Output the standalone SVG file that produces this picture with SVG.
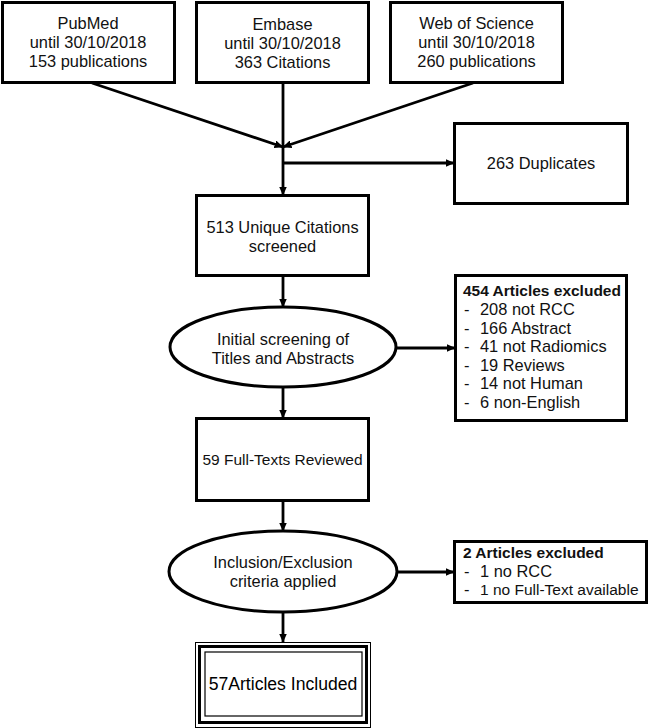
<svg xmlns="http://www.w3.org/2000/svg" width="649" height="728" viewBox="0 0 649 728">
<defs>
<style>
.box{fill:#fff;stroke:#000;stroke-width:3}
.t{font-family:"Liberation Sans",Arial,sans-serif;font-size:16.4px;fill:#111}
.c{text-anchor:middle}
.b{font-weight:bold;font-size:15.5px}
.s{font-size:15.5px}
.ln{fill:none;stroke:#000;stroke-width:2.8}
.a{font-family:"Liberation Sans",Arial,sans-serif;font-size:17.6px;fill:#000;text-anchor:middle}
</style>
<marker id="ah" markerUnits="userSpaceOnUse" markerWidth="9" markerHeight="8" refX="8.5" refY="4" orient="auto">
<path d="M0,0 L9,4 L0,8 z" fill="#000"/>
</marker>
</defs>
<rect width="649" height="728" fill="#fff"/>
<g id="connectors">
<line class="ln" x1="92" y1="83" x2="283" y2="147" marker-end="url(#ah)"/>
<line class="ln" x1="473" y1="83" x2="283" y2="147" marker-end="url(#ah)"/>
<line class="ln" x1="283" y1="83" x2="283" y2="195" marker-end="url(#ah)"/>
<line class="ln" x1="283" y1="163" x2="454" y2="163" marker-end="url(#ah)"/>
<line class="ln" x1="283" y1="276" x2="283" y2="307" marker-end="url(#ah)"/>
<line class="ln" x1="396" y1="348" x2="455" y2="348" marker-end="url(#ah)"/>
<line class="ln" x1="283" y1="387" x2="283" y2="418" marker-end="url(#ah)"/>
<line class="ln" x1="283" y1="501" x2="283" y2="531" marker-end="url(#ah)"/>
<line class="ln" x1="397" y1="572" x2="454" y2="572" marker-end="url(#ah)"/>
<line class="ln" x1="283" y1="612" x2="283" y2="642" marker-end="url(#ah)"/>
</g>
<g id="pubmed">
<rect class="box" x="2.5" y="2.5" width="172" height="80"/>
<text class="t c"><tspan x="88" y="29">PubMed</tspan><tspan x="88" y="48">until 30/10/2018</tspan><tspan x="88" y="67">153 publications</tspan></text>
</g>
<g id="embase">
<rect class="box" x="196.5" y="2.5" width="172" height="80"/>
<text class="t c"><tspan x="282.5" y="30">Embase</tspan><tspan x="282.5" y="49">until 30/10/2018</tspan><tspan x="282.5" y="68">363 Citations</tspan></text>
</g>
<g id="wos">
<rect class="box" x="390.5" y="2.5" width="172" height="80"/>
<text class="t c"><tspan x="476.5" y="29">Web of Science</tspan><tspan x="476.5" y="48">until 30/10/2018</tspan><tspan x="476.5" y="67">260 publications</tspan></text>
</g>
<g id="duplicates">
<rect class="box" x="454.5" y="123.5" width="173" height="80"/>
<text class="t c" x="541" y="169">263 Duplicates</text>
</g>
<g id="unique">
<rect class="box" x="196.5" y="195.5" width="172" height="80"/>
<text class="t c"><tspan x="282.5" y="233">513 Unique Citations</tspan><tspan x="282.5" y="252">screened</tspan></text>
</g>
<g id="screening">
<ellipse class="box" cx="283" cy="347" rx="113" ry="40"/>
<text class="t c"><tspan x="283" y="345">Initial screening of</tspan><tspan x="283" y="364">Titles and Abstracts</tspan></text>
</g>
<g id="excluded454">
<rect class="box" x="455.5" y="275.5" width="171" height="145"/>
<text class="t"><tspan class="b" x="463" y="296">454 Articles excluded</tspan><tspan x="464" y="315">-</tspan><tspan x="480" y="315">208 not RCC</tspan><tspan x="464" y="333.6">-</tspan><tspan x="480" y="333.6">166 Abstract</tspan><tspan x="464" y="352.2">-</tspan><tspan x="480" y="352.2">41 not Radiomics</tspan><tspan x="464" y="370.8">-</tspan><tspan x="480" y="370.8">19 Reviews</tspan><tspan x="464" y="389.4">-</tspan><tspan x="480" y="389.4">14 not Human</tspan><tspan x="464" y="408">-</tspan><tspan x="480" y="408">6 non-English</tspan></text>
</g>
<g id="fulltexts">
<rect class="box" x="196.5" y="418.5" width="172" height="82"/>
<text class="t c s" x="282.5" y="465">59 Full-Texts Reviewed</text>
</g>
<g id="criteria">
<ellipse class="box" cx="283" cy="571.5" rx="114" ry="40.5"/>
<text class="t c"><tspan x="283" y="568">Inclusion/Exclusion</tspan><tspan x="283" y="587">criteria applied</tspan></text>
</g>
<g id="excluded2">
<rect class="box" x="454.5" y="541.5" width="192" height="61"/>
<text class="t"><tspan class="b" x="463" y="558">2 Articles excluded</tspan><tspan x="464" y="576.7">-</tspan><tspan x="480" y="576.7">1 no RCC</tspan><tspan x="464" y="595.4">-</tspan><tspan class="s" x="480" y="595.4">1 no Full-Text available</tspan></text>
</g>
<g id="included">
<rect x="195.5" y="642.5" width="175" height="85" fill="#fff" stroke="#000" stroke-width="1"/>
<rect x="199.5" y="646.5" width="167" height="76" fill="none" stroke="#000" stroke-width="3"/>
<rect x="205" y="652" width="157" height="64" fill="none" stroke="#000" stroke-width="1.2"/>
<text class="a" x="283" y="690">57Articles Included</text>
</g>
</svg>
